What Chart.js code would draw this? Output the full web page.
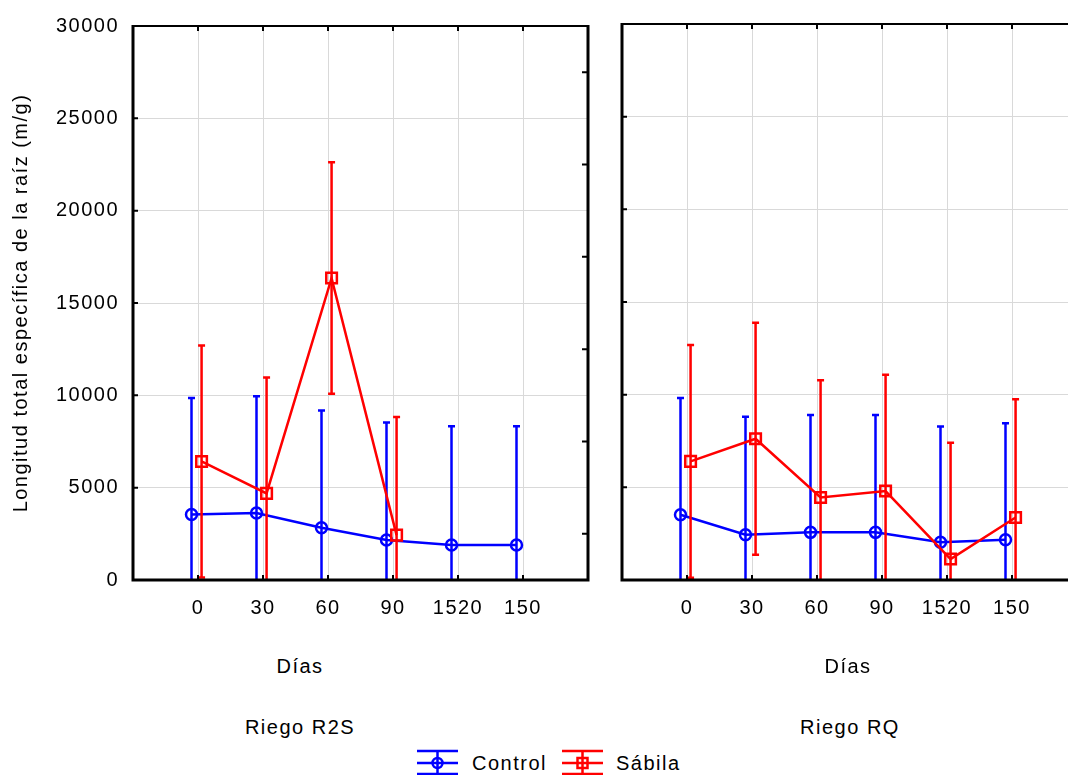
<!DOCTYPE html>
<html lang="es">
<head>
  <meta charset="UTF-8" />
  <title>Longitud total específica de la raíz</title>
  <script src="https://cdn.jsdelivr.net/npm/chart.js"></script>
  <style>
    * { box-sizing: border-box; }
    body {
      margin: 0;
      background: #fff;
      overflow: hidden;
      font-family: 'Liberation Sans', Arial, sans-serif;
      color: #000;
    }
    .page { position: relative; width: 1068px; height: 775px; overflow: hidden; }
    canvas { position: absolute; top: 0; }
    #chartR2S { left: 0; }
    #chartRQ { left: 600px; }
    .label {
      position: absolute;
      font-size: 20px;
      line-height: 24px;
      letter-spacing: 1.5px;
      white-space: nowrap;
    }
    .centered { text-align: center; }
  </style>
</head>
<body>
  <div class="page">
    <canvas id="chartR2S" width="604" height="650"></canvas>
    <canvas id="chartRQ" width="500" height="650"></canvas>

    <div class="label centered" style="left:0;width:600px;top:654px">Días</div>
    <div class="label centered" style="left:600px;width:496px;top:654px">Días</div>
    <div class="label centered" style="left:0;width:600px;top:715px">Riego R2S</div>
    <div class="label centered" style="left:600px;width:500px;top:715px">Riego RQ</div>

    <canvas id="keyControl" width="44" height="28" style="left:416px;top:749px"></canvas>
    <div class="label" style="left:472px;top:751px">Control</div>
    <canvas id="keySabila" width="44" height="28" style="left:561px;top:749px"></canvas>
    <div class="label" style="left:616px;top:751px">Sábila</div>
  </div>

  <script>
    // Días (categories on the x axis)
    const categories = ['0', '30', '60', '90', '1520', '150'];

    // Riego R2S: means and half-width of the error bars
    const r2sControl    = [3550, 3630, 2830, 2170, 1900, 1890];
    const r2sControlErr = [6300, 6320, 6350, 6360, 6430, 6440];
    const r2sSabila     = [6420, 4690, 16350, 2430];
    const r2sSabilaErr  = [6280, 6280, 6270, 6400];

    // Riego RQ
    const rqControl    = [3520, 2440, 2570, 2570, 2040, 2170];
    const rqControlErr = [6300, 6370, 6330, 6330, 6240, 6290];
    const rqSabila     = [6400, 7620, 4450, 4800, 1130, 3370];
    const rqSabilaErr  = [6280, 6260, 6330, 6280, 6280, 6380];

    // minor ticks drawn on the inner right border of the first panel
    const minorTicks = [2500, 7500, 12500, 17500, 22500, 27500];

    const BLUE = '#0000ff';
    const RED = '#ff0000';
    const GRID = '#d9d9d9';

    Chart.defaults.font.family = "'Liberation Sans', Arial, sans-serif";
    Chart.defaults.font.size = 20;
    Chart.defaults.color = '#000';

    // wider letter spacing for all canvas text
    const spacing = {
      id: 'spacing',
      beforeDraw(chart) { chart.ctx.letterSpacing = '1.5px'; }
    };

    // vertical error bars (mean +/- err) for datasets that carry `errors`
    const errorBars = {
      id: 'errorBars',
      afterDatasetDraw(chart, args) {
        const ds = chart.data.datasets[args.index];
        if (!ds.errors) return;
        const { ctx, chartArea: a, scales: { y } } = chart;
        ctx.save();
        ctx.beginPath();
        ctx.rect(a.left, a.top, a.right - a.left, a.bottom - a.top);
        ctx.clip();
        ctx.strokeStyle = ds.borderColor;
        ctx.lineWidth = 2.5;
        args.meta.data.forEach((pt, i) => {
          const v = ds.data[i].y, e = ds.errors[i];
          const top = y.getPixelForValue(v + e);
          const bot = y.getPixelForValue(v - e);
          ctx.beginPath();
          ctx.moveTo(pt.x, top); ctx.lineTo(pt.x, bot);
          ctx.moveTo(pt.x - 3.5, top); ctx.lineTo(pt.x + 3.5, top);
          ctx.moveTo(pt.x - 3.5, bot); ctx.lineTo(pt.x + 3.5, bot);
          ctx.stroke();
        });
        ctx.restore();
      }
    };

    // black frame with inward tick marks
    const frame = {
      id: 'frame',
      afterDraw(chart, args, opts) {
        const { ctx, chartArea: a, scales: { x, y } } = chart;
        ctx.save();
        ctx.strokeStyle = '#000';
        ctx.lineWidth = 2;
        ctx.beginPath();
        y.ticks.forEach(t => {
          const p = y.getPixelForValue(t.value);
          ctx.moveTo(a.left, p); ctx.lineTo(a.left + 5, p);
        });
        x.ticks.forEach(t => {
          if (!categories[t.value - 1]) return;
          const p = x.getPixelForValue(t.value);
          ctx.moveTo(p, a.bottom); ctx.lineTo(p, a.bottom - 5);
          ctx.moveTo(p, a.top); ctx.lineTo(p, a.top + 5);
        });
        (opts.rightTicks || []).forEach(v => {
          const p = y.getPixelForValue(v);
          ctx.moveTo(a.right, p); ctx.lineTo(a.right - 6, p);
        });
        ctx.stroke();

        ctx.lineWidth = 2;
        ctx.beginPath();
        ctx.moveTo(a.left, a.top); ctx.lineTo(a.right, a.top);
        ctx.stroke();

        ctx.lineWidth = 3;
        ctx.beginPath();
        ctx.moveTo(a.left, a.top - 1); ctx.lineTo(a.left, a.bottom + 1.5);
        ctx.moveTo(a.left - 1.5, a.bottom); ctx.lineTo(a.right + 1.5, a.bottom);
        ctx.moveTo(a.right, a.top - 1); ctx.lineTo(a.right, a.bottom + 1.5);
        ctx.stroke();
        ctx.restore();
      }
    };

    function points(values, shift) {
      return values.map((v, i) => ({ x: i + 1 + shift, y: v }));
    }

    function makePanel(id, control, controlErr, sabila, sabilaErr, opt) {
      return new Chart(document.getElementById(id), {
        type: 'line',
        data: {
          datasets: [
            {
              label: 'Control',
              data: points(control, -0.1),
              errors: controlErr,
              borderColor: BLUE,
              borderWidth: 2.5,
              pointStyle: 'circle',
              pointRadius: 5.5,
              pointBorderWidth: 2.5,
              pointBorderColor: BLUE,
              pointBackgroundColor: 'rgba(0,0,0,0)',
              tension: 0,
              order: 2
            },
            {
              label: 'Sábila',
              data: points(sabila, 0.055),
              errors: sabilaErr,
              borderColor: RED,
              borderWidth: 2.5,
              pointStyle: 'rect',
              pointRadius: 7.5,
              pointBorderWidth: 2.5,
              pointBorderColor: RED,
              pointBackgroundColor: 'rgba(0,0,0,0)',
              tension: 0,
              order: 1
            }
          ]
        },
        options: {
          responsive: false,
          animation: false,
          layout: { padding: { top: 24, right: opt.rightPad, left: 0, bottom: 0 } },
          plugins: {
            legend: { display: false },
            tooltip: { enabled: false },
            frame: { rightTicks: opt.rightTicks }
          },
          scales: {
            x: {
              type: 'linear',
              min: 0,
              max: 7,
              afterFit: s => { s.height = 70; },
              border: { display: false },
              grid: {
                drawTicks: false,
                color: c => (c.tick && categories[c.tick.value - 1]) ? GRID : 'rgba(0,0,0,0)'
              },
              ticks: {
                stepSize: 1,
                autoSkip: false,
                maxRotation: 0,
                padding: 16,
                callback: v => categories[v - 1] || ''
              }
            },
            y: {
              min: 0,
              max: 30000,
              afterFit: s => { s.width = opt.axisWidth; },
              border: { display: false },
              grid: { drawTicks: false, color: GRID },
              ticks: {
                stepSize: 5000,
                padding: 14,
                display: opt.showLabels,
                callback: v => String(v)
              },
              title: {
                display: opt.showLabels,
                text: 'Longitud total específica de la raíz (m/g)',
                padding: { top: 9, bottom: 0 }
              }
            }
          }
        },
        plugins: [spacing, errorBars, frame]
      });
    }

    makePanel('chartR2S', r2sControl, r2sControlErr, r2sSabila, r2sSabilaErr,
      { showLabels: true, axisWidth: 133, rightPad: 16, rightTicks: minorTicks });
    makePanel('chartRQ', rqControl, rqControlErr, rqSabila, rqSabilaErr,
      { showLabels: false, axisWidth: 22, rightPad: 23, rightTicks: [] });

    // legend keys: error-bar glyph with the series marker
    function drawKey(id, color, shape) {
      const ctx = document.getElementById(id).getContext('2d');
      const cx = 21.5, cy = 14;
      ctx.strokeStyle = color;
      ctx.lineWidth = 2.5;
      ctx.beginPath();
      ctx.moveTo(1, 2); ctx.lineTo(42, 2);
      ctx.moveTo(1, cy); ctx.lineTo(42, cy);
      ctx.moveTo(1, 25); ctx.lineTo(42, 25);
      ctx.moveTo(cx, 2); ctx.lineTo(cx, 27);
      ctx.stroke();
      ctx.beginPath();
      if (shape === 'circle') ctx.arc(cx, cy, 5, 0, Math.PI * 2);
      else ctx.rect(cx - 5, cy - 5, 10, 10);
      ctx.stroke();
    }
    drawKey('keyControl', BLUE, 'circle');
    drawKey('keySabila', RED, 'rect');
  </script>
</body>
</html>
